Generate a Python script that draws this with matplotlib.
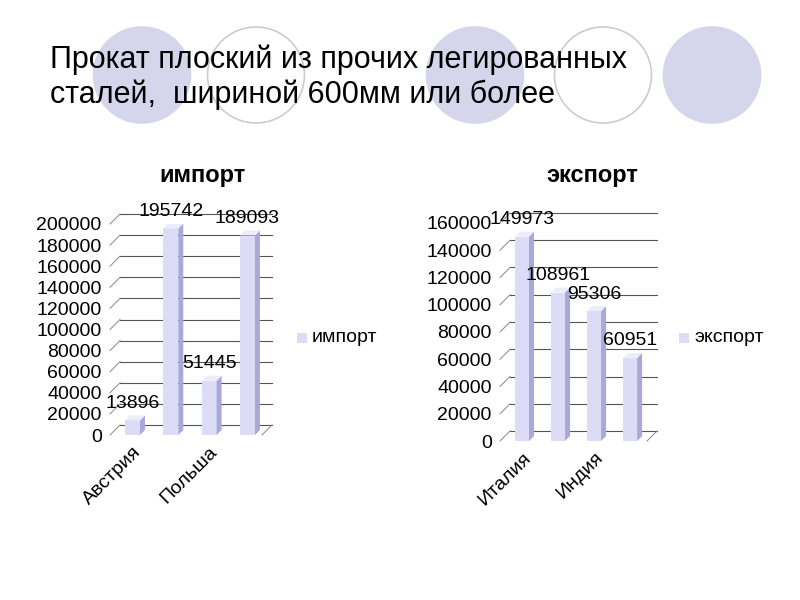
import matplotlib
matplotlib.use("Agg")
import matplotlib.pyplot as plt
import matplotlib.transforms as mtransforms
from matplotlib.patches import Ellipse, Polygon, Rectangle

plt.rcParams['font.family'] = ['Liberation Sans', 'DejaVu Sans']

# data
title_lines = ['Прокат плоский из прочих легированных', 'сталей,  шириной 600мм или более']
imp_names = ['Австрия', '', 'Польша', '']
imp_values = [13896, 195742, 51445, 189093]
imp_ticks = [0, 20000, 40000, 60000, 80000, 100000, 120000, 140000, 160000, 180000, 200000]
exp_names = ['Италия', '', 'Индия', '']
exp_values = [149973, 108961, 95306, 60951]
exp_ticks = [0, 20000, 40000, 60000, 80000, 100000, 120000, 140000, 160000]

front_col = '#dcdcf6'
side_col = '#a9a9d9'
top_col = '#ececfb'
grid_col = '#555555'

fig = plt.figure(figsize=(8, 6), dpi=100)

# decorative circles at the top of the slide
circles = [(142, True), (256, False), (475, True), (603, False), (712, True)]
for cx, filled in circles:
    e = Ellipse((cx / 800, 1 - 75 / 600), 97 / 800, 96 / 600, transform=fig.transFigure,
                facecolor='#d5d6eb' if filled else 'none',
                edgecolor='#d5d6eb' if filled else '#cccccc', lw=1.2, zorder=0)
    fig.add_artist(e)

for k, line in enumerate(title_lines):
    fig.text(50 / 800, 1 - (68 + 35 * k) / 600, line, fontsize=22, va='baseline',
             ha='left', zorder=5)


def px_to_data(ax, dx, dy):
    x0, y0 = ax.transData.transform((0, 0))
    return ax.transData.inverted().transform((x0 + dx, y0 + dy))


def draw_chart(rect, xlim, names, values, ticks, name, title_xy, legend_xy):
    ax = fig.add_axes(rect)
    ax.set_xlim(*xlim)
    ax.set_ylim(0, ticks[-1])
    for s in ax.spines.values():
        s.set_visible(False)
    ax.patch.set_alpha(0)
    ax.set_yticks(ticks)
    ax.set_yticklabels([str(t) for t in ticks], fontsize=14)
    ax.tick_params(axis='y', length=0, pad=6)
    ax.set_xticks([i for i, n in enumerate(names) if n])
    ax.set_xticklabels([n for n in names if n], rotation=45, ha='right',
                       va='top', fontsize=14, rotation_mode='anchor')
    ax.tick_params(axis='x', length=0, pad=6)

    # back wall gridlines, shifted for the 3d depth
    back = mtransforms.offset_copy(ax.transData, fig=fig, x=10, y=10, units='dots')
    dx, dy = px_to_data(ax, 10, 10)
    for t in ticks:
        ax.plot([xlim[0], xlim[1]], [t, t], color=grid_col, lw=0.8,
                transform=back, clip_on=False, zorder=1)
        # small diagonal connecting front to back wall
        ax.plot([xlim[0], xlim[0] + dx], [t, t + dy], color='#888888', lw=0.7,
                clip_on=False, zorder=1)
    ax.plot([xlim[1], xlim[1] + dx], [0, dy], color='#888888', lw=0.7,
            clip_on=False, zorder=1)

    w = 0.39
    ddx, ddy = px_to_data(ax, 5, 5)
    for i, v in enumerate(values):
        xl, xr = i - w / 2, i + w / 2
        ax.add_patch(Rectangle((xl, 0), w, v, facecolor=front_col,
                               edgecolor='none', zorder=3))
        ax.add_patch(Polygon([(xr, 0), (xr + ddx, ddy), (xr + ddx, v + ddy), (xr, v)],
                             closed=True, facecolor=side_col, edgecolor='none', zorder=3))
        ax.add_patch(Polygon([(xl, v), (xr, v), (xr + ddx, v + ddy), (xl + ddx, v + ddy)],
                             closed=True, facecolor=top_col, edgecolor='none', zorder=3))
        ax.annotate(str(v), (i, v), xytext=(0, 17), textcoords='offset pixels',
                    ha='center', va='center', fontsize=14, zorder=4,
                    annotation_clip=False)

    fig.text(title_xy[0] / 800, 1 - title_xy[1] / 600, name, fontsize=17,
             fontweight='bold', ha='center', va='center')
    lx, ly = legend_xy
    fig.add_artist(Rectangle((lx / 800, 1 - (ly + 5) / 600), 10 / 800, 10 / 600,
                             transform=fig.transFigure, facecolor=front_col,
                             edgecolor='none'))
    fig.text((lx + 15) / 800, 1 - ly / 600, name, fontsize=14, ha='left', va='center')
    return ax


draw_chart([110 / 800, 165 / 600, 152 / 800, 211 / 600], (-0.587, 3.38),
           imp_names, imp_values, imp_ticks, 'импорт', (203, 175), (297, 338))
draw_chart([500 / 800, 159 / 600, 147 / 800, 218 / 600], (-0.61, 3.47),
           exp_names, exp_values, exp_ticks, 'экспорт', (592, 175), (679, 338))

fig.savefig('out.png', dpi=100, facecolor='white')
